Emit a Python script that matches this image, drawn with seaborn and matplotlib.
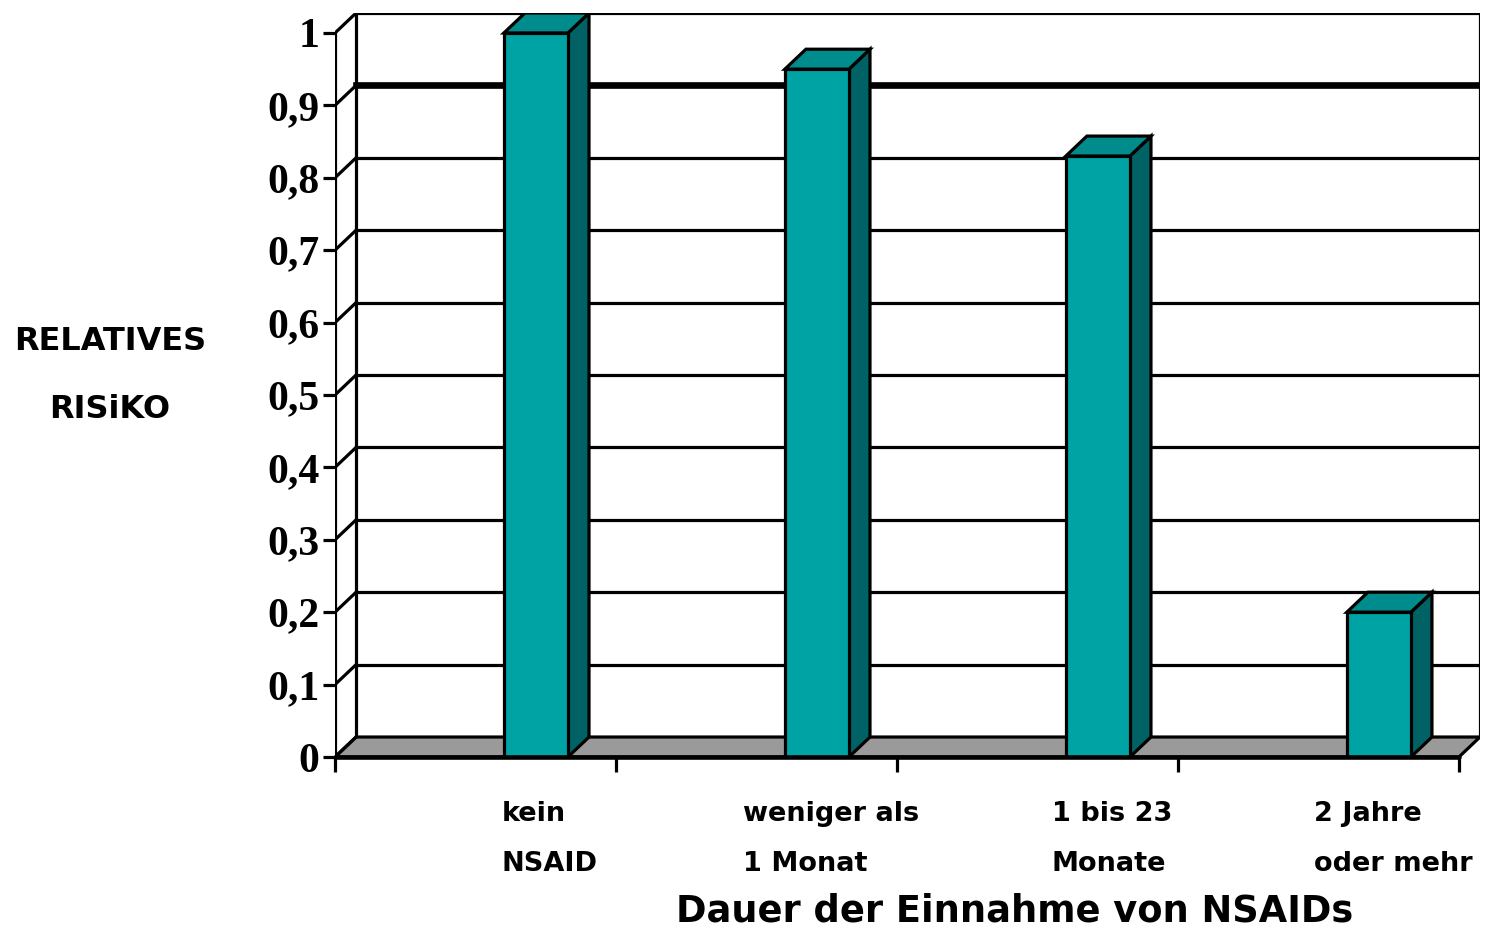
import numpy as np
import pandas as pd
import matplotlib
matplotlib.use("Agg")
import matplotlib.pyplot as plt
from matplotlib.patches import Polygon
import seaborn as sns

# Relative risk by duration of NSAID intake
categories = ["kein\nNSAID", "weniger als\n1 Monat", "1 bis 23\nMonate", "2 Jahre\noder mehr"]
risk = [1.00, 0.95, 0.83, 0.20]
ytick_values = [0.0, 0.1, 0.2, 0.3, 0.4, 0.5, 0.6, 0.7, 0.8, 0.9, 1.0]
ytick_labels = ["0", "0,1", "0,2", "0,3", "0,4", "0,5", "0,6", "0,7", "0,8", "0,9", "1"]
xlabel_text = "Dauer der Einnahme von NSAIDs"
ylabel_lines = ["RELATIVES", "RISiKO"]

sns.set_theme(style="white")
plt.rcParams["font.family"] = ["DejaVu Sans"]

FRONT = "#00a3a3"
SIDE = "#006264"
TOP = "#008c8c"
FLOOR = "#9a9a9a"
LW = 2.3

df = pd.DataFrame({"Dauer": categories, "Risiko": risk})

W, H = 1499, 941
fig = plt.figure(figsize=(W / 100, H / 100), dpi=100)
ax = fig.add_axes([335 / W, (H - 757) / H, (1480 - 335) / W, (757 - 13) / H])

# depth offset of the pseudo-3D walls (data units)
dx, dy = 0.075, 0.0276
x_left, x_right = -0.715, 3.285

for s in ax.spines.values():
    s.set_visible(False)

# front faces of the bars
sns.barplot(data=df, x="Dauer", y="Risiko", color=FRONT, saturation=1,
            width=0.228, edgecolor="black", linewidth=LW, ax=ax, zorder=4)
bars = list(ax.patches)

ax.set_xlim(x_left, x_right + dx)
ax.set_ylim(0, 1 + dy)

# floor
floor = Polygon([(x_left, 0), (x_right, 0), (x_right + dx, dy), (x_left + dx, dy)],
                closed=True, facecolor=FLOOR, edgecolor="black", lw=LW, zorder=1)
ax.add_patch(floor)

# back wall gridlines and frame
for v in ytick_values[1:]:
    ax.plot([x_left + dx, x_right + dx], [v + dy, v + dy], color="black",
            lw=4.8 if abs(v - 0.9) < 1e-9 else LW, zorder=0.5, solid_capstyle="projecting")
ax.plot([x_left + dx, x_left + dx], [dy, 1 + dy], color="black", lw=LW, zorder=0.5)
ax.plot([x_right + dx, x_right + dx], [dy, 1 + dy], color="black", lw=LW, zorder=0.5)

# side wall: front axis and diagonal connectors
ax.plot([x_left, x_left], [0, 1], color="black", lw=LW, zorder=2)
for v in ytick_values:
    ax.plot([x_left, x_left + dx], [v, v + dy], color="black", lw=LW, zorder=2)

# side and top faces from the drawn bars
for bar in bars:
    x0 = bar.get_x()
    x1 = x0 + bar.get_width()
    h = bar.get_height()
    side = Polygon([(x1, 0), (x1 + dx, dy), (x1 + dx, h + dy), (x1, h)], closed=True,
                   facecolor=SIDE, edgecolor="black", lw=LW, zorder=3)
    top = Polygon([(x0, h), (x0 + dx, h + dy), (x1 + dx, h + dy), (x1, h)], closed=True,
                  facecolor=TOP, edgecolor="black", lw=LW, zorder=3)
    ax.add_patch(side)
    ax.add_patch(top)

# front x axis line
ax.plot([x_left, x_right], [0, 0], color="black", lw=LW + 1, zorder=5, clip_on=False)

# ticks
ax.set_xticks([x_left + k for k in range(len(categories) + 1)])
ax.set_xticklabels([])
ax.set_yticks(ytick_values)
ax.set_yticklabels(ytick_labels, fontfamily="Liberation Serif", fontweight="bold",
                   fontsize=30, color="black")
ax.tick_params(axis="x", direction="out", length=11, width=LW, color="black", bottom=True)
ax.tick_params(axis="y", direction="out", length=9, width=LW, color="black", left=True, pad=2)
ax.set_xlabel("")
ax.set_ylabel("")

# category labels under the bars
for i, lab in enumerate(categories):
    ax.annotate(lab, xy=(i + 0.05, (H - 839) / H), xycoords=("data", "figure fraction"),
                ha="center", va="center", multialignment="left",
                fontsize=19.5, fontweight="bold", linespacing=2.2, color="black")

fig.text(1015 / W, (H - 911) / H, xlabel_text, ha="center", va="center",
         fontsize=26.5, fontweight="bold", color="black")
fig.text(110 / W, (H - 341) / H, ylabel_lines[0], ha="center", va="center",
         fontsize=23, fontweight="bold", color="black")
fig.text(110 / W, (H - 410) / H, ylabel_lines[1], ha="center", va="center",
         fontsize=23, fontweight="bold", color="black")

fig.savefig("out.png", dpi=100, facecolor="white")
